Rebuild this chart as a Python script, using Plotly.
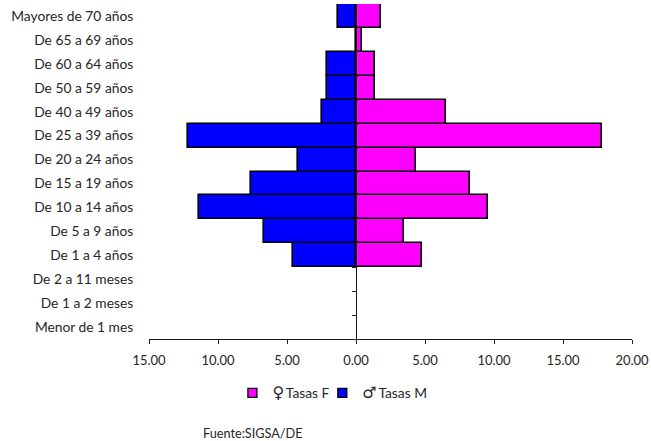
import plotly.graph_objects as go

categories = ["Menor de 1 mes", "De 1 a 2 meses", "De 2 a 11 meses", "De 1 a 4 años", "De 5 a 9 años",
              "De 10 a 14 años", "De 15 a 19 años", "De 20 a 24 años", "De 25 a 39 años", "De 40 a 49 años",
              "De 50 a 59 años", "De 60 a 64 años", "De 65 a 69 años", "Mayores de 70 años"]
tasas_f = [None, None, None, 4.75, 3.5, 9.6, 8.25, 4.35, 17.85, 6.5, 1.35, 1.35, 0.4, 1.8]
tasas_m = [None, None, None, 4.6, 6.7, 11.4, 7.6, 4.2, 12.2, 2.5, 2.1, 2.1, None, 1.3]
x_ticks = [-15, -10, -5, 0, 5, 10, 15, 20]
x_labels = ["15.00", "10.00", "5.00", "0.00", "5.00", "10.00", "15.00", "20.00"]
boundaries = [i + 0.5 for i in range(13)]

FONT = "Lato, Carlito, sans-serif"
TEXT = "#262626"
W, H = 651, 441
L, R, T, B = 148.5, 632, 4, 339
GLYPH = '<span style="font-family:DejaVu Sans;font-size:16px">%s</span>\u2009%s'
F_COLOR, M_COLOR = "#FF00FF", "#0000FF"
OUTLINE = dict(color="black", width=1.6)

fig = go.Figure()
fig.add_bar(y=categories, x=tasas_f, orientation="h", showlegend=False,
            marker=dict(color=F_COLOR, line=OUTLINE))
fig.add_bar(y=categories, x=[None if v is None else -v for v in tasas_m], orientation="h", showlegend=False,
            marker=dict(color=M_COLOR, line=OUTLINE))
# legend-only entries, for the small square keys
fig.add_scatter(x=[None], y=[None], mode="markers", name=GLYPH % ("♀", "Tasas F"), legend="legend",
                marker=dict(symbol="square", size=9, color=F_COLOR, line=dict(color="black", width=1.3)))
fig.add_scatter(x=[None], y=[None], mode="markers", name=GLYPH % ("♂", "Tasas M"), legend="legend2",
                marker=dict(symbol="square", size=9, color=M_COLOR, line=dict(color="black", width=1.3)))
# invisible trace that carries the tick marks on the zero line
fig.add_scatter(y=boundaries, x=[0] * len(boundaries), yaxis="y2", mode="markers",
                marker=dict(opacity=0), showlegend=False, hoverinfo="skip")

legend_common = dict(orientation="h", xanchor="left", y=(B - 393) / (B - T), yanchor="middle",
                     font=dict(size=13.8), bgcolor="rgba(0,0,0,0)")

fig.update_layout(
    width=W, height=H, autosize=False, barmode="overlay", bargap=0,
    paper_bgcolor="white", plot_bgcolor="white",
    margin=dict(l=L, r=W - R, t=T, b=H - B, autoexpand=False),
    font=dict(family=FONT, size=13.8, color=TEXT),
    xaxis=dict(range=[-15, 20], tickvals=x_ticks, ticktext=x_labels, showgrid=False, zeroline=False,
               automargin=False, ticklabeloverflow="allow",
               showline=True, linecolor="#1a1a1a", linewidth=1, ticks="outside", ticklen=4,
               tickcolor="#1a1a1a", tickfont=dict(size=13), ticklabelstandoff=5),
    yaxis=dict(type="category", categoryorder="array", categoryarray=categories, range=[-0.5, 13.5],
               automargin=False,
               showgrid=False, zeroline=False, showline=False, ticks="outside", ticklen=12,
               tickcolor="rgba(0,0,0,0)", tickfont=dict(size=13.8)),
    yaxis2=dict(overlaying="y", anchor="free", position=15 / 35, side="left", range=[-0.5, 13.5],
                automargin=False,
                tickvals=boundaries, showticklabels=False, showgrid=False, zeroline=False,
                showline=True, linecolor="#1a1a1a", linewidth=1, ticks="outside", ticklen=4,
                tickcolor="#1a1a1a"),
    legend=dict(x=(232 - L) / (R - L), **legend_common),
    legend2=dict(x=(322 - L) / (R - L), **legend_common),
    annotations=[dict(text="Fuente:SIGSA/DE", xref="paper", yref="paper", x=(203 - L) / (R - L),
                      y=(B - 432.5) / (B - T), xanchor="left", yanchor="middle", showarrow=False, xshift=-2,
                      font=dict(size=12.7, color=TEXT))],
)
fig.write_html("out.html", post_script="document.body.style.margin='0';",
               config={"displayModeBar": False})
